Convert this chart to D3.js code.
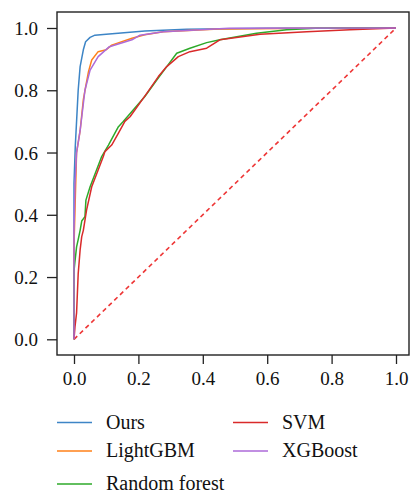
<!DOCTYPE html>
<html><head><meta charset="utf-8">
<script src="https://cdn.jsdelivr.net/npm/d3@7"></script>
<style>body{margin:0;background:#fff}svg text{font-family:"Liberation Serif","Times New Roman",Times,serif;fill:#111}</style>
</head><body><svg id="c" width="410" height="493"></svg>
<script>
const seriesNames = ["Ours","LightGBM","Random forest","SVM","XGBoost"];
const seriesColors = ["#3d85c6","#ff8019","#2eaa2a","#d92a2a","#ad6ad8"];
const xTicks = [0,0.2,0.4,0.6,0.8,1.0];
const yTicks = [0,0.2,0.4,0.6,0.8,1.0];
const ours = [[0,0],[0,0.5],[0.004,0.62],[0.008,0.7],[0.013,0.8],[0.019,0.876],[0.029,0.93],[0.036,0.956],[0.05,0.97],[0.065,0.977],[0.1,0.98],[0.137,0.983],[0.22,0.99],[0.35,0.996],[0.6,0.999],[1,1]];
const lightgbm = [[0,0],[0,0.3],[0.004,0.45],[0.008,0.6],[0.019,0.67],[0.029,0.77],[0.036,0.81],[0.045,0.86],[0.055,0.897],[0.075,0.924],[0.1,0.93],[0.117,0.945],[0.18,0.967],[0.22,0.978],[0.277,0.988],[0.45,0.997],[0.75,0.999],[1,1]];
const randomForest = [[0,0],[0,0.22],[0.003,0.25],[0.008,0.297],[0.013,0.32],[0.019,0.35],[0.024,0.38],[0.034,0.394],[0.037,0.447],[0.05,0.49],[0.07,0.544],[0.086,0.587],[0.107,0.624],[0.127,0.662],[0.138,0.683],[0.153,0.70],[0.22,0.78],[0.257,0.833],[0.288,0.876],[0.319,0.919],[0.36,0.935],[0.412,0.953],[0.453,0.962],[0.567,0.983],[0.66,0.994],[0.75,0.999],[1,1]];
const svm = [[0,0],[0.003,0.04],[0.008,0.085],[0.013,0.21],[0.019,0.287],[0.024,0.33],[0.029,0.35],[0.039,0.415],[0.055,0.49],[0.075,0.544],[0.091,0.587],[0.096,0.603],[0.117,0.624],[0.138,0.662],[0.158,0.70],[0.174,0.715],[0.226,0.79],[0.262,0.844],[0.288,0.876],[0.324,0.908],[0.36,0.924],[0.412,0.935],[0.453,0.962],[0.578,0.98],[0.723,0.988],[0.857,0.994],[1,1]];
const xgboost = [[0,0],[0,0.35],[0.003,0.5],[0.008,0.6],[0.019,0.67],[0.034,0.80],[0.05,0.865],[0.075,0.908],[0.11,0.94],[0.18,0.962],[0.205,0.977],[0.277,0.988],[0.48,0.999],[1,1]];
const allSeries = [ours, lightgbm, randomForest, svm, xgboost];
const diagonal = [[0,0],[1,1]];

const FONT = "'Liberation Serif', 'Times New Roman', Times, serif";
const svg = d3.select("#c");
const x = d3.scaleLinear().domain([0,1]).range([74,396]);
const y = d3.scaleLinear().domain([0,1]).range([339.3,28]);
const box = {l:57,t:12,r:409,b:355};

const xAxis = svg.append("g").attr("transform",`translate(0,${box.b})`)
  .call(d3.axisBottom(x).tickValues(xTicks).tickFormat(d3.format(".1f")).tickSize(9).tickSizeOuter(0).tickPadding(8));
const yAxis = svg.append("g").attr("transform",`translate(${box.l},0)`)
  .call(d3.axisLeft(y).tickValues(yTicks).tickFormat(d3.format(".1f")).tickSize(10).tickSizeOuter(0).tickPadding(9));
[xAxis,yAxis].forEach(g=>{
  g.attr("font-family",FONT);
  g.select(".domain").remove();
  g.selectAll(".tick line").attr("stroke","#222").attr("stroke-width",1.3);
  g.selectAll(".tick text").attr("font-size",19).attr("font-family",FONT).attr("fill","#111");
});
yAxis.selectAll(".tick text").attr("dy","0.35em");

const line = d3.line().x(d=>x(d[0])).y(d=>y(d[1]));
svg.append("path").datum(diagonal).attr("d",line).attr("fill","none")
  .attr("stroke","#ee3636").attr("stroke-width",1.6).attr("stroke-dasharray","4.5,3.5");

allSeries.forEach((s,i)=>{
  svg.append("path").datum(s).attr("d",line).attr("fill","none")
    .attr("stroke",seriesColors[i]).attr("stroke-width",1.5).attr("stroke-linejoin","round");
});

svg.append("rect").attr("x",box.l).attr("y",box.t).attr("width",box.r-box.l).attr("height",box.b-box.t)
  .attr("fill","none").attr("stroke","#222").attr("stroke-width",1.4);

const legendPos = [[57,422.5],[57,451],[57,484],[233,422.5],[233,451]];
seriesNames.forEach((n,i)=>{
  const [lx,ly] = legendPos[i];
  svg.append("line").attr("x1",lx).attr("x2",lx+35).attr("y1",ly).attr("y2",ly)
    .attr("stroke",seriesColors[i]).attr("stroke-width",1.3);
  svg.append("text").attr("x",lx+49).attr("y",ly+6).attr("font-size",20).attr("font-family",FONT).text(n);
});
</script></body></html>
